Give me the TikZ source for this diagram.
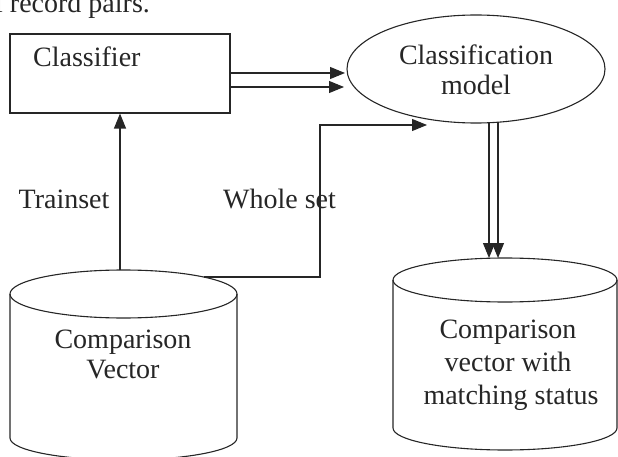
\documentclass[tikz,border=0pt]{standalone}
\usepackage{fontspec}
\setmainfont{Liberation Serif}
\usetikzlibrary{arrows.meta,shapes.geometric}
\begin{document}
\begin{tikzpicture}[x=1pt,y=1pt,
  ln/.style={line width=1.1pt,black!85},
  arr/.style={ln,-{Triangle[length=15pt,width=12pt]}},
  lbl/.style={inner sep=0pt,font=\fontsize{28}{33}\selectfont,text=black!85},
  cyltext/.style={lbl,align=center}]
\useasboundingbox (0,0) rectangle (618,-457);
\clip (0,0) rectangle (618,-457);
% cut-off text at the top
\node[lbl,anchor=base west] (top) at (-5,-12.5) {l record pairs.};
% Classifier box
\node[ln,draw,minimum width=220pt,minimum height=79pt,inner sep=0pt] (cl) at (120,-73.5) {};
\node[lbl,anchor=base west] (cltext) at (33,-67) {Classifier};
% Classification model ellipse
\node[ln,draw,ellipse,minimum width=258pt,minimum height=108pt,inner sep=0pt] (cm) at (476,-69) {};
\node[cyltext,text width=200pt] (cmtext) at (476,-70) {Classification\\[-3pt]model};
% left cylinder
\draw[ln] (10,-294) -- (10,-438) arc[start angle=180,end angle=360,x radius=113.5pt,y radius=22pt] -- (237,-294);
\draw[ln] (123.5,-294) ellipse [x radius=113.5pt,y radius=24pt];
\coordinate (cvtop) at (120,-270);
\coordinate (cvright) at (204,-277);
\node[lbl,anchor=base] (cv1) at (123,-348) {Comparison};
\node[lbl,anchor=base] (cv2) at (123,-378) {Vector};
% right cylinder
\draw[ln] (393,-280) -- (393,-428) arc[start angle=180,end angle=360,x radius=112pt,y radius=22pt] -- (617,-280);
\draw[ln] (505,-280) ellipse [x radius=112pt,y radius=22pt];
\coordinate (mvtop1) at (489,-258);
\coordinate (mvtop2) at (498,-258);
\node[lbl,anchor=base] (mv1) at (508,-338) {Comparison};
\node[lbl,anchor=base] (mv2) at (508,-371) {vector with};
\node[lbl,anchor=base] (mv3) at (511,-404) {matching status};
% labels
\node[lbl,anchor=base] (tr) at (64,-208) {Trainset};
\node[lbl,anchor=base west] (ws) at (223,-208) {Whole set};
% connectors
\draw[arr] (cvtop) -- (cvtop |- cl.south);
\coordinate (bend1) at (320,-277);
\coordinate (bend2) at (320,-125);
\coordinate (wsend) at (427,-125);
\draw[arr] (cvright) -- (bend1) -- (bend2) -- (wsend);
\draw[arr] (cl.east |- 0,-73) -- (345,-73);
\draw[arr] (cl.east |- 0,-87) -- (344,-87);
\coordinate (cmb1) at (489,-122.5);
\coordinate (cmb2) at (498,-122);
\draw[arr] (cmb1) -- (mvtop1);
\draw[arr] (cmb2) -- (mvtop2);
\end{tikzpicture}
\end{document}
